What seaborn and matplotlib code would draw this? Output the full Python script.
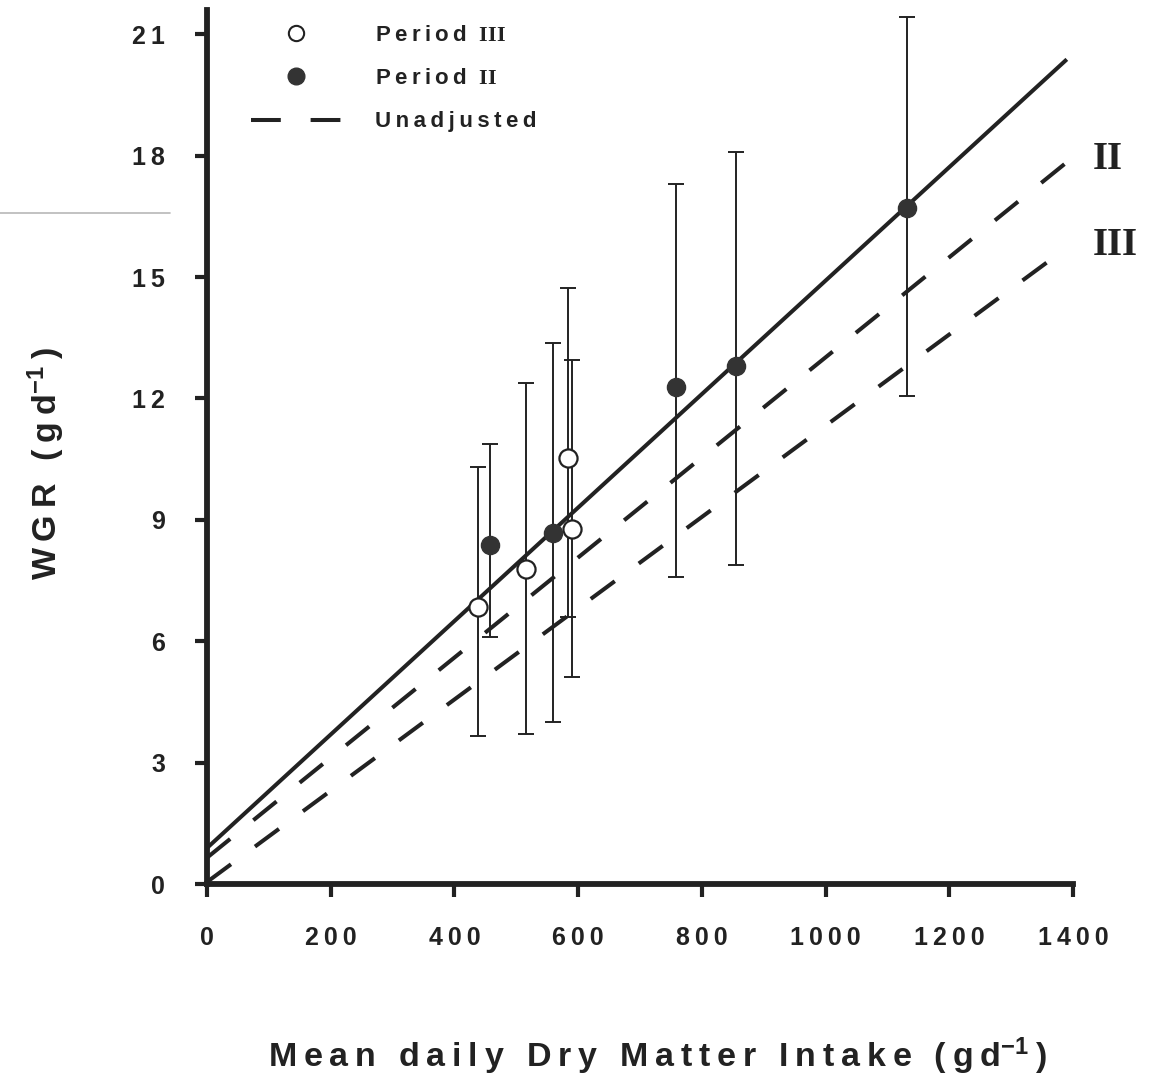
import numpy as np
import matplotlib
matplotlib.use("Agg")
import matplotlib.pyplot as plt
from matplotlib.lines import Line2D
from matplotlib.ticker import FuncFormatter, FixedLocator
import seaborn as sns

# Period III (open circles): intake, mean WGR and error-bar limits
p3_intake = [438, 516, 584, 590]
p3_wgr = [6.84, 7.79, 10.54, 8.78]
p3_low = [3.66, 3.71, 6.60, 5.12]
p3_high = [10.31, 12.39, 14.74, 12.94]

# Period II (filled circles)
p2_intake = [457, 559, 758, 855, 1132]
p2_wgr = [8.38, 8.68, 12.29, 12.81, 16.70]
p2_low = [6.11, 4.00, 7.59, 7.89, 12.07]
p2_high = [10.88, 13.36, 17.29, 18.10, 21.42]

# Regression lines, given by their end points
adj_x = [0, 1390]
adj_y = [0.89, 20.38]
unadj2_x = [0, 1395]
unadj2_y = [0.65, 17.90]
unadj3_x = [0, 1395]
unadj3_y = [0.05, 15.78]

x_ticks = [0, 200, 400, 600, 800, 1000, 1200, 1400]
y_ticks = [0, 3, 6, 9, 12, 15, 18, 21]

sns.set_theme(style="ticks")
plt.rcParams["font.family"] = ["Liberation Sans", "DejaVu Sans"]
plt.rcParams["font.weight"] = "bold"
plt.rcParams["mathtext.fontset"] = "custom"
plt.rcParams["mathtext.rm"] = "Liberation Sans"
plt.rcParams["mathtext.bf"] = "Liberation Serif:bold"
plt.rcParams["mathtext.default"] = "regular"

INK = "#222222"
THIN = "\u2009"


def spaced(s, gap=THIN):
    return gap.join(s)


W, H = 1157, 1084
fig = plt.figure(figsize=(W / 100, H / 100), dpi=100, facecolor="white")
ax = fig.add_axes([207 / W, 200 / H, 866 / W, 874 / H])
ax.set_facecolor("white")

# error bars
for xs, ys, lo, hi in [(p3_intake, p3_wgr, p3_low, p3_high),
                       (p2_intake, p2_wgr, p2_low, p2_high)]:
    ax.errorbar(xs, ys,
                yerr=[np.subtract(ys, lo), np.subtract(hi, ys)],
                fmt="none", ecolor=INK, elinewidth=1.4,
                capsize=5.5, capthick=1.4, zorder=2)

# fitted lines
dash = (0, (7.4, 7.4))
sns.lineplot(x=adj_x, y=adj_y, ax=ax, color=INK, linewidth=2.9,
             solid_capstyle="butt", zorder=3)
sns.lineplot(x=unadj2_x, y=unadj2_y, ax=ax, color=INK, linewidth=2.9,
             linestyle=dash, zorder=3)
sns.lineplot(x=unadj3_x, y=unadj3_y, ax=ax, color=INK, linewidth=2.9,
             linestyle=dash, zorder=3)

# group means
sns.scatterplot(x=p3_intake, y=p3_wgr, ax=ax, marker="o", s=170,
                color="white", edgecolor=INK, linewidth=1.6, zorder=5)
sns.scatterplot(x=p2_intake, y=p2_wgr, ax=ax, marker="o", s=170,
                color="#333333", edgecolor="#333333", linewidth=1.0, zorder=5)

# roman numerals naming the unadjusted lines
ax.text(1432, unadj2_y[-1], "II", fontfamily="Liberation Serif",
        fontweight="bold", fontsize=28, color=INK, ha="left", va="center",
        clip_on=False)
ax.text(1432, unadj3_y[-1], "III", fontfamily="Liberation Serif",
        fontweight="bold", fontsize=28, color=INK, ha="left", va="center",
        clip_on=False)

# axes styling
ax.set_xlim(0, 1400)
ax.set_ylim(0, 21.6)
ax.xaxis.set_major_locator(FixedLocator(x_ticks))
ax.yaxis.set_major_locator(FixedLocator(y_ticks))
fmt = FuncFormatter(lambda v, p: spaced(str(int(round(v)))))
ax.xaxis.set_major_formatter(fmt)
ax.yaxis.set_major_formatter(fmt)
for side in ("top", "right"):
    ax.spines[side].set_visible(False)
for side in ("left", "bottom"):
    ax.spines[side].set_linewidth(4.2)
    ax.spines[side].set_color(INK)
ax.tick_params(direction="out", length=9, width=3, color=INK, pad=21,
               labelsize=18, labelcolor=INK)
for lbl in ax.get_xticklabels() + ax.get_yticklabels():
    lbl.set_fontweight("bold")
ax.set_xlabel("")
ax.set_ylabel("")

# legend
handles = [
    Line2D([], [], ls="none", marker="o", markersize=11, mfc="white",
           mec=INK, mew=1.5),
    Line2D([], [], ls="none", marker="o", markersize=12, mfc="#333333",
           mec="#333333"),
    Line2D([], [], color=INK, linewidth=2.9, linestyle=dash),
]
labels = [
    spaced("Period") + r"  $\mathbf{III}$",
    spaced("Period") + r"  $\mathbf{II}$",
    spaced("Unadjusted"),
]
ax.legend(handles, labels, loc="upper left",
          bbox_to_anchor=(251 / W, 1 - 25 / H), bbox_transform=fig.transFigure,
          frameon=False, borderpad=0, borderaxespad=0, handlelength=4.05,
          handletextpad=1.53, labelspacing=1.0,
          prop={"size": 16, "weight": "bold"}, labelcolor=INK)

# axis titles
fig.text(658 / W, (H - 1067) / H,
         spaced("Mean daily Dry Matter Intake (gd") + r"$^{-1}$" + THIN + ")",
         ha="center", va="baseline", fontsize=24.5, fontweight="bold", color=INK)
fig.text(46 / W, 1 - 463 / H,
         spaced("WGR (gd") + r"$^{-1}$" + THIN + ")",
         rotation=90, ha="center", va="center", fontsize=24.5,
         fontweight="bold", color=INK)

# faint rule at the left margin
fig.add_artist(Line2D([0, 170 / W], [1 - 213 / H, 1 - 213 / H],
                      transform=fig.transFigure, color="#b8b8b8", lw=1.2))

fig.savefig("out.png", dpi=100, facecolor="white")
